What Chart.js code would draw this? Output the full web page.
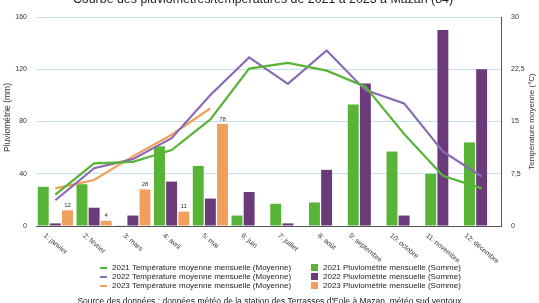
<!DOCTYPE html>
<html><head><meta charset="utf-8">
<script src="https://cdn.jsdelivr.net/npm/chart.js@4/dist/chart.umd.min.js"></script>
<style>
html,body{margin:0;padding:0;background:#fff;}
#wrap{position:relative;width:539px;height:303px;overflow:hidden;font-family:"Liberation Sans",Arial,sans-serif;}
#c{position:absolute;left:0;top:0;}
#title{position:absolute;left:0;width:526px;top:-8px;text-align:center;font-size:12.4px;color:#222;white-space:nowrap;}
#src{position:absolute;left:0;width:539px;top:296px;text-align:center;font-size:8.5px;color:#222;white-space:nowrap;}
.leg{position:absolute;font-size:8px;color:#222;white-space:nowrap;line-height:9px;}
.leg div{height:9px;display:flex;align-items:center;}
.ln{display:inline-block;width:7px;height:2px;margin-right:5px;}
.bx{display:inline-block;width:7px;height:7px;margin-right:5px;}
</style></head>
<body><div id="wrap">
<canvas id="c" width="539" height="303"></canvas>
<div id="title">Courbe des pluviomètres/températures de 2021 à 2023 à Mazan (84)</div>
<div class="leg" id="legL" style="left:100px;top:263px;"></div>
<div class="leg" id="legR" style="left:311px;top:263px;"></div>
<div id="src">Source des données : données météo de la station des Terrasses d'Eole à Mazan, météo sud ventoux</div>
</div>
<script>
const months = ['1: janvier','2: février','3: mars','4: avril','5: mai','6: juin','7: juillet','8: août','9: septembre','10: octobre','11: novembre','12: décembre'];
const rain2021 = [30,32,0.5,61,46,8,17,18,93,57,40,64];
const rain2022 = [2,14,8,34,21,26,2,43,109,8,150,120];
const rain2023 = [12,4,28,11,78,null,null,null,null,null,null,null];
const temp2021 = [4.5,9.0,9.2,10.9,15.3,22.6,23.4,22.3,20.0,13.2,7.2,5.4];
const temp2022 = [3.7,8.3,9.6,12.6,18.8,24.2,20.4,25.2,19.5,17.6,10.7,7.1];
const temp2023 = [5.4,6.6,10.0,13.1,16.9,null,null,null,null,null,null,null];
const rainTicks = [0,40,80,120,160];
const tempTicks = [0,7.5,15,22.5,30];

const GREEN='#58b437', PURPLE_BAR='#6a3a7a', PURPLE_LINE='#8a6bb3', ORANGE='#f0a05c';
const FONT='"Liberation Sans", Arial, sans-serif';

const lineNames = ['2021 Température moyenne mensuelle (Moyenne)','2022 Température moyenne mensuelle (Moyenne)','2023 Température moyenne mensuelle (Moyenne)'];
const barNames = ['2021 Pluviométrie mensuelle (Somme)','2022 Pluviométrie mensuelle (Somme)','2023 Pluviométrie mensuelle (Somme)'];

function lineDs(label,data,color){return {type:'line',label,data,yAxisID:'y1',borderColor:color,backgroundColor:color,borderWidth:2.2,pointRadius:0,tension:0,spanGaps:false};}
function barDs(label,data,color){return {type:'bar',label,data,yAxisID:'y',backgroundColor:color,categoryPercentage:0.94,barPercentage:0.9};}

const datasets=[
  lineDs(lineNames[0],temp2021,GREEN),
  lineDs(lineNames[1],temp2022,PURPLE_LINE),
  lineDs(lineNames[2],temp2023,ORANGE),
  barDs(barNames[0],rain2021,GREEN),
  barDs(barNames[1],rain2022,PURPLE_BAR),
  barDs(barNames[2],rain2023,ORANGE)
];

const customDraw={
  id:'customDraw',
  afterDraw(chart){
    const ctx=chart.ctx, xs=chart.scales.x, ca=chart.chartArea;
    ctx.save();
    ctx.font='7px '+FONT; ctx.fillStyle='#333';
    const a=40*Math.PI/180, h=7;
    months.forEach((m,i)=>{
      const x=xs.getPixelForTick(i);
      const w=ctx.measureText(m).width;
      const cy=ca.bottom+6+(w/2)*Math.sin(a)+(h/2)*Math.cos(a);
      ctx.save(); ctx.translate(x,cy); ctx.rotate(a);
      ctx.textAlign='center'; ctx.textBaseline='middle'; ctx.fillText(m,0,0); ctx.restore();
    });
    const cyMid=(ca.top+ca.bottom)/2;
    ctx.fillStyle='#333'; ctx.textAlign='center'; ctx.textBaseline='middle';
    ctx.font='8.5px '+FONT;
    ctx.save(); ctx.translate(8,cyMid-4); ctx.rotate(-Math.PI/2); ctx.fillText('Pluviométrie (mm)',0,0); ctx.restore();
    ctx.font='8px '+FONT;
    ctx.save(); ctx.translate(532,cyMid); ctx.rotate(-Math.PI/2); ctx.fillText('Température moyenne (°C)',0,0); ctx.restore();
    const meta=chart.getDatasetMeta(5);
    ctx.font='6px '+FONT; ctx.fillStyle='#333'; ctx.textBaseline='bottom';
    meta.data.forEach((el,i)=>{ if(rain2023[i]==null) return; ctx.fillText(String(rain2023[i]),el.x,el.y-2); });
    ctx.restore();
  }
};

new Chart(document.getElementById('c'),{
  data:{labels:months,datasets},
  options:{
    responsive:false,animation:false,
    layout:{padding:{top:17,left:0,right:0,bottom:0}},
    plugins:{legend:{display:false},title:{display:false},tooltip:{enabled:false}},
    scales:{
      x:{type:'category',offset:true,grid:{display:false},border:{display:true,color:'#555',width:1},
         ticks:{display:false},
         afterFit(s){s.height=77;s.paddingLeft=0;s.paddingRight=0;}},
      y:{type:'linear',position:'left',min:0,max:160,
         afterBuildTicks(s){s.ticks=rainTicks.map(v=>({value:v}));},
         grid:{color:c=>c.tick.value===0?'rgba(0,0,0,0)':'#c5dff0',lineWidth:1,drawTicks:false},
         border:{display:false},
         ticks:{font:{size:7,family:FONT},color:'#333',padding:9},
         afterFit(s){s.width=36;s.paddingTop=0;s.paddingBottom=0;}},
      y1:{type:'linear',position:'right',min:0,max:30,
         afterBuildTicks(s){s.ticks=tempTicks.map(v=>({value:v}));},
         grid:{display:false,drawTicks:false},
         border:{display:true,color:'#555',width:1},
         ticks:{font:{size:7,family:FONT},color:'#333',padding:10,crossAlign:'near',
           callback:v=>String(v).replace('.',',')},
         afterFit(s){s.width=38;s.paddingTop=0;s.paddingBottom=0;}}
    }
  },
  plugins:[customDraw]
});

const colsL=[GREEN,PURPLE_LINE,ORANGE], colsR=[GREEN,PURPLE_BAR,ORANGE];
document.getElementById('legL').innerHTML=lineNames.map((n,i)=>`<div><span class="ln" style="background:${colsL[i]}"></span>${n}</div>`).join('');
document.getElementById('legR').innerHTML=barNames.map((n,i)=>`<div><span class="bx" style="background:${colsR[i]}"></span>${n}</div>`).join('');
</script>
</body></html>
